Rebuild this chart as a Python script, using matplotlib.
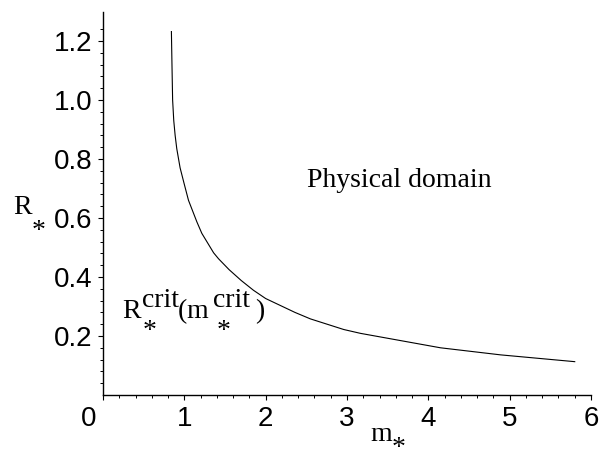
import matplotlib
matplotlib.use("Agg")
import matplotlib.pyplot as plt
import matplotlib.transforms as mtransforms
from matplotlib.ticker import FixedLocator, MultipleLocator

# ---- data ----
m_star = [0.841, 0.848, 0.856, 0.870, 0.887, 0.907, 0.948, 0.998, 1.051, 1.154,
          1.215, 1.36, 1.42, 1.55, 1.70, 1.85, 2.00, 2.36, 2.55, 2.96, 3.165,
          4.15, 4.89, 5.80]
R_star = [1.232, 1.12, 1.00, 0.930, 0.880, 0.835, 0.770, 0.716, 0.660, 0.587,
          0.548, 0.482, 0.462, 0.425, 0.388, 0.355, 0.327, 0.280, 0.258, 0.222, 0.209,
          0.160, 0.136, 0.113]

x_ticks = [0, 1, 2, 3, 4, 5, 6]
x_tick_labels = ["0", "1", "2", "3", "4", "5", "6"]
y_ticks = [0.2, 0.4, 0.6, 0.8, 1.0, 1.2]
y_tick_labels = ["0.2", "0.4", "0.6", "0.8", "1.0", "1.2"]
y_minor = [i * 0.04 for i in range(1, 32)]

W, H = 607, 454
fig = plt.figure(figsize=(W / 100, H / 100), dpi=100)
x0, x1, y0, y1 = 103, 591, 395, 11.5
ax = fig.add_axes([x0 / W, 1 - y0 / H, (x1 - x0) / W, (y0 - y1) / H])

ax.plot(m_star, R_star, color="black", lw=0.8)
ax.set_xlim(0, 6)
ax.set_ylim(0, 1.3)

for s in ("top", "right"):
    ax.spines[s].set_visible(False)
for s in ("left", "bottom"):
    ax.spines[s].set_linewidth(1.0)

sans = "Liberation Sans"
serif = "Liberation Serif"
ax.set_xticks(x_ticks)
ax.set_xticklabels(x_tick_labels, fontfamily=sans, fontsize=20)
ax.set_yticks(y_ticks)
ax.set_yticklabels(y_tick_labels, fontfamily=sans, fontsize=20)
ax.xaxis.set_minor_locator(MultipleLocator(0.2))
ax.yaxis.set_minor_locator(FixedLocator(y_minor))
ax.tick_params(which="major", length=3.6, width=0.8, pad=4, direction="out")
ax.tick_params(which="minor", length=2.2, width=0.7, direction="out")

# shift the "0" label to the left of the origin
lab0 = ax.get_xticklabels()[0]
lab0.set_transform(lab0.get_transform() + mtransforms.ScaledTranslation(-14 / 100, 0, fig.dpi_scale_trans))


def piece(s, xy, xycoords, dx, dy, fs=20):
    ax.annotate(s, xy=xy, xycoords=xycoords, xytext=(dx, dy), textcoords="offset pixels",
                fontfamily=serif, fontsize=fs, ha="left", va="baseline",
                annotation_clip=False)


# y label R_*
yl = (13, H - 214)
piece("R", yl, "figure pixels", 0, 0)
piece("*", yl, "figure pixels", 19, -24)

# x label m_*
xl = (370, H - 441)
piece("m", xl, "figure pixels", 0, 0)
piece("*", xl, "figure pixels", 22, -14)

# curve label R_*^crit(m_*^crit)
cl = (0.234, 0.261)
piece("R", cl, "data", 0, 0)
piece("crit", cl, "data", 20, 11)
piece("*", cl, "data", 21, -20)
piece("(", cl, "data", 56, 0)
piece("m", cl, "data", 64, 0)
piece("crit", cl, "data", 91, 11)
piece("*", cl, "data", 95, -20)
piece(")", cl, "data", 133, 0)

ax.text(2.51, 0.705, "Physical domain", fontfamily=serif, fontsize=20,
        ha="left", va="baseline")

fig.savefig("out.png", dpi=100)
